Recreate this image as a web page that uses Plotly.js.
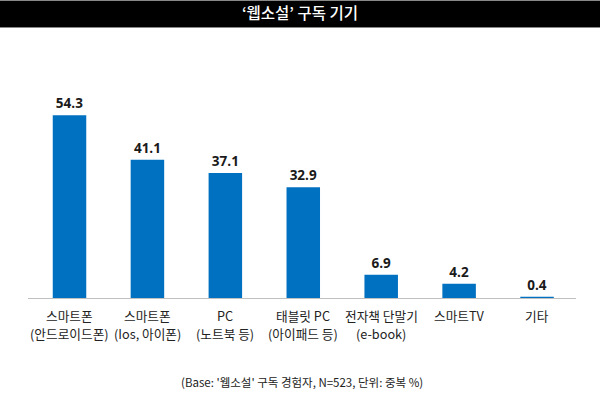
<!DOCTYPE html>
<html><head><meta charset="utf-8">
<script src="https://cdn.plot.ly/plotly-3.0.1.min.js"></script>
<style>html,body{margin:0;padding:0;background:#fff;}</style>
</head><body><div id="chart" style="width:600px;height:396px;"></div>
<script>
const categories = ['cat1','cat2','cat3','cat4','cat5','cat6','cat7'];
const tickLine1 = ['스마트폰','스마트폰','PC','태블릿 PC','전자책 단말기','스마트TV','기타'];
const tickLine2 = ['(안드로이드폰)','(Ios, 아이폰)','(노트북 등)','(아이패드 등)','(e-book)','',''];
const values = [54.3, 41.1, 37.1, 32.9, 6.9, 4.2, 0.4];
const titleText = '‘웹소설’ 구독 기기';
const footerText = "(Base: '웹소설' 구독 경험자, N=523, 단위: 중복 %)";

const L=28, R=576, T=96, B=298;
const W=R-L, H=B-T;
const px=x=>(x-L)/W, py=y=>(B-y)/H;
const tickFont = {family:'Noto Sans CJK KR, sans-serif', size:12.7, color:'#222'};

const anns = [];
categories.forEach((c,i)=>{
  anns.push({text:tickLine1[i], xref:'x', yref:'paper', x:c, y:py(315), xanchor:'center', yanchor:'middle', showarrow:false, font:tickFont});
  if (tickLine2[i]) anns.push({text:tickLine2[i], xref:'x', yref:'paper', x:c, y:py(333.5), xanchor:'center', yanchor:'middle', showarrow:false, font:tickFont});
});
anns.push({text:footerText, xref:'paper', yref:'paper', x:px(302), y:py(382), xanchor:'center', yanchor:'middle', showarrow:false,
     font:{family:'Noto Sans CJK KR, sans-serif', size:11.5, color:'#222'}});

Plotly.newPlot('chart', [{
  type:'bar', x:categories, y:values,
  marker:{color:'#0070C0'},
  text:values.map(v=>v.toFixed(1)), textposition:'outside', cliponaxis:false,
  textfont:{family:'Open Sans, sans-serif', size:13.5, color:'#1a1a1a', weight:700},
  hoverinfo:'none'
}], {
  width:600, height:396,
  margin:{l:L, r:600-R, t:T, b:396-B, pad:0},
  paper_bgcolor:'#fff', plot_bgcolor:'#fff',
  bargap:0.57,
  showlegend:false,
  title:{text:titleText, x:0.5, xanchor:'center', y:1-14/396, yanchor:'middle', yref:'container',
    font:{family:'Noto Sans CJK KR, sans-serif', size:15.5, color:'#ffffff', weight:500}},
  xaxis:{showticklabels:false, showline:true, linecolor:'#c0c0c0', linewidth:1,
    ticks:'', showgrid:false, zeroline:false},
  yaxis:{range:[0,60], visible:false, showgrid:false, zeroline:false},
  shapes:[
    {type:'rect', xref:'paper', yref:'paper', x0:px(0), x1:px(600), y0:py(27), y1:py(1), fillcolor:'#000', line:{width:0}, layer:'below'},
    {type:'line', xref:'paper', yref:'paper', x0:px(0), x1:px(600), y0:py(27.5), y1:py(27.5), line:{color:'#888', width:1}},
    {type:'line', xref:'paper', yref:'paper', x0:px(0), x1:px(600), y0:py(0.5), y1:py(0.5), line:{color:'#888', width:1}}
  ],
  annotations:anns
}, {staticPlot:true});
</script></body></html>
